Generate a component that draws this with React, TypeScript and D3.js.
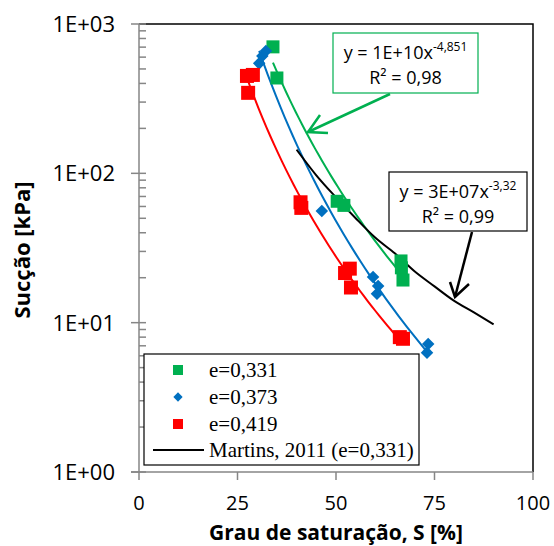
import React, { useEffect, useRef } from 'react';
import * as d3 from 'd3';

// grau de saturação S [%] vs sucção [kPa]
const e331S = [34.0, 35.0, 50.3, 52.0, 66.5, 66.6, 67.0];
const e331Suc = [703, 435, 65, 61, 25.9, 23.3, 19.3];
const e373S = [30.5, 31.3, 32.2, 46.4, 59.4, 60.7, 60.4, 73.4, 73.1];
const e373Suc = [545, 610, 660, 56, 20.2, 17.6, 15.6, 7.2, 6.3];
const e419S = [27.4, 28.9, 27.7, 41.0, 41.2, 52.3, 53.5, 53.8, 66.2, 67.0];
const e419Suc = [449, 456, 346, 64, 58.7, 21.5, 23, 17.2, 8.0, 7.8];
// Martins, 2011 (e=0,331) curve
const martinsS = [40, 45, 50, 55, 60, 65, 70, 75, 80, 85, 90];
const martinsSuc = [144, 97, 69, 50, 37, 29, 22, 17.5, 14, 11.7, 9.75];

const xTicks = [0, 25, 50, 75, 100];
const yTicks = [1, 10, 100, 1000];
const yTickLabels = ['1E+00', '1E+01', '1E+02', '1E+03'];

const GREEN = '#00B050';
const BLUE = '#0070C0';
const RED = '#FF0000';
const AXIS = '#868686';
const FONT = '"Open Sans", Lato, sans-serif';

// excel-like power trendline: ln(y) = ln(a) + b ln(x)
function powerFit(xs: number[], ys: number[]) {
  const lx = xs.map(Math.log);
  const ly = ys.map(Math.log);
  const mx = d3.mean(lx)!;
  const my = d3.mean(ly)!;
  let num = 0;
  let den = 0;
  lx.forEach((v, i) => {
    num += (v - mx) * (ly[i] - my);
    den += (v - mx) * (v - mx);
  });
  const b = num / den;
  const a = Math.exp(my - b * mx);
  return { a, b };
}

export default function App() {
  const ref = useRef<SVGSVGElement>(null);

  useEffect(() => {
    const svg = d3.select(ref.current);
    svg.selectAll('*').remove();

    const left = 139;
    const right = 533;
    const top = 24;
    const bottom = 472;

    const x = d3.scaleLinear().domain([0, 100]).range([left, right]);
    const y = d3.scaleLog().domain([1, 1000]).range([bottom, top]);

    // plot border (top / right black)
    svg
      .append('path')
      .attr('d', `M${left},${top}H${right}V${bottom}`)
      .attr('fill', 'none')
      .attr('stroke', '#000')
      .attr('stroke-width', 1.5);

    // y axis with minor ticks
    const yAxis = svg.append('g');
    yAxis
      .append('line')
      .attr('x1', left)
      .attr('x2', left)
      .attr('y1', top)
      .attr('y2', bottom)
      .attr('stroke', AXIS)
      .attr('stroke-width', 1.5);
    const minor: number[] = [];
    for (let p = 0; p < 3; p++) {
      for (let m = 2; m <= 9; m++) minor.push(m * Math.pow(10, p));
    }
    yAxis
      .selectAll('line.minor')
      .data(minor)
      .enter()
      .append('line')
      .attr('x1', left)
      .attr('x2', left + 7)
      .attr('y1', (d) => y(d))
      .attr('y2', (d) => y(d))
      .attr('stroke', AXIS)
      .attr('stroke-width', 1.5);
    yAxis
      .selectAll('line.major')
      .data(yTicks)
      .enter()
      .append('line')
      .attr('x1', left - 8)
      .attr('x2', left + 7)
      .attr('y1', (d) => y(d))
      .attr('y2', (d) => y(d))
      .attr('stroke', AXIS)
      .attr('stroke-width', 1.5);
    yAxis
      .selectAll('text')
      .data(yTicks)
      .enter()
      .append('text')
      .attr('x', left - 24)
      .attr('y', (d) => y(d) + 8)
      .attr('text-anchor', 'end')
      .style('font-family', FONT)
      .style('font-size', '22px')
      .text((d, i) => yTickLabels[i]);

    // x axis
    const xAxis = svg.append('g');
    xAxis
      .append('line')
      .attr('x1', left - 8)
      .attr('x2', right)
      .attr('y1', bottom)
      .attr('y2', bottom)
      .attr('stroke', AXIS)
      .attr('stroke-width', 1.5);
    xAxis
      .selectAll('line.tick')
      .data(xTicks)
      .enter()
      .append('line')
      .attr('x1', (d) => x(d))
      .attr('x2', (d) => x(d))
      .attr('y1', bottom)
      .attr('y2', bottom + 8)
      .attr('stroke', AXIS)
      .attr('stroke-width', 1.5);
    xAxis
      .selectAll('text')
      .data(xTicks)
      .enter()
      .append('text')
      .attr('x', (d) => x(d))
      .attr('y', bottom + 38)
      .attr('text-anchor', 'middle')
      .style('font-family', FONT)
      .style('font-size', '20px')
      .text((d) => d);

    // axis titles
    svg
      .append('text')
      .attr('x', (left + right) / 2)
      .attr('y', 540)
      .attr('text-anchor', 'middle')
      .style('font-family', FONT)
      .style('font-size', '21px')
      .style('font-weight', 'bold')
      .text('Grau de saturação, S [%]');
    svg
      .append('text')
      .attr('transform', `translate(30,${(top + bottom) / 2 + 2}) rotate(-90)`)
      .attr('text-anchor', 'middle')
      .style('font-family', FONT)
      .style('font-size', '22px')
      .style('font-weight', 'bold')
      .text('Sucção [kPa]');

    const line = d3
      .line<[number, number]>()
      .x((d) => x(d[0]))
      .y((d) => y(d[1]));

    // trendlines
    const series = [
      { xs: e331S, ys: e331Suc, color: GREEN },
      { xs: e373S, ys: e373Suc, color: BLUE },
      { xs: e419S, ys: e419Suc, color: RED },
    ];
    series.forEach((s) => {
      const { a, b } = powerFit(s.xs, s.ys);
      const [x0, x1] = d3.extent(s.xs) as [number, number];
      const pts: [number, number][] = d3
        .range(0, 41)
        .map((i) => x0 + ((x1 - x0) * i) / 40)
        .map((v) => [v, a * Math.pow(v, b)]);
      svg
        .append('path')
        .attr('d', line(pts))
        .attr('fill', 'none')
        .attr('stroke', s.color)
        .attr('stroke-width', 2);
    });

    // Martins curve
    const mLine = d3
      .line<number>()
      .x((d) => x(d))
      .y((d, i) => y(martinsSuc[i]))
      .curve(d3.curveMonotoneX);
    svg
      .append('path')
      .attr('d', mLine(martinsS))
      .attr('fill', 'none')
      .attr('stroke', '#000')
      .attr('stroke-width', 2);

    // markers
    const sq = 13;
    svg
      .selectAll('rect.g')
      .data(e331S)
      .enter()
      .append('rect')
      .attr('x', (d) => x(d) - sq / 2)
      .attr('y', (d, i) => y(e331Suc[i]) - sq / 2)
      .attr('width', sq)
      .attr('height', sq)
      .attr('fill', GREEN);
    svg
      .selectAll('path.b')
      .data(e373S)
      .enter()
      .append('path')
      .attr('d', d3.symbol().type(d3.symbolDiamond2).size(100)())
      .attr('transform', (d, i) => `translate(${x(d)},${y(e373Suc[i])})`)
      .attr('fill', BLUE);
    svg
      .selectAll('rect.r')
      .data(e419S)
      .enter()
      .append('rect')
      .attr('x', (d) => x(d) - 7)
      .attr('y', (d, i) => y(e419Suc[i]) - 7)
      .attr('width', 14)
      .attr('height', 14)
      .attr('fill', RED);

    // annotation boxes
    const boxes = [
      { x: 333, y: 33, w: 145, h: 60, color: GREEN, base: '1E+10', exp: '-4,851', r2: '0,98' },
      { x: 389, y: 172, w: 138, h: 59, color: '#000', base: '3E+07', exp: '-3,32', r2: '0,99' },
    ];
    boxes.forEach((bx) => {
      svg
        .append('rect')
        .attr('x', bx.x)
        .attr('y', bx.y)
        .attr('width', bx.w)
        .attr('height', bx.h)
        .attr('fill', '#fff')
        .attr('stroke', bx.color)
        .attr('stroke-width', 1.2);
      const t1 = svg
        .append('text')
        .attr('x', bx.x + bx.w / 2)
        .attr('y', bx.y + 26)
        .attr('text-anchor', 'middle')
        .style('font-family', FONT)
        .style('font-size', '18px');
      t1.append('tspan').text(`y = ${bx.base}x`);
      t1.append('tspan').attr('dy', -8).style('font-size', '12px').text(bx.exp);
      svg
        .append('text')
        .attr('x', bx.x + bx.w / 2)
        .attr('y', bx.y + 51)
        .attr('text-anchor', 'middle')
        .style('font-family', FONT)
        .style('font-size', '18px')
        .text(`R² = ${bx.r2}`);
    });

    // arrows
    const arrows = [
      { color: GREEN, shaft: [390, 94, 308, 132], barbs: [320, 115, 308, 132, 328, 133] },
      { color: '#000', shaft: [472, 232, 455, 297], barbs: [450, 282, 455, 297, 469, 284] },
    ];
    arrows.forEach((a) => {
      svg
        .append('line')
        .attr('x1', a.shaft[0])
        .attr('y1', a.shaft[1])
        .attr('x2', a.shaft[2])
        .attr('y2', a.shaft[3])
        .attr('stroke', a.color)
        .attr('stroke-width', 2.5);
      svg
        .append('path')
        .attr('d', `M${a.barbs[0]},${a.barbs[1]}L${a.barbs[2]},${a.barbs[3]}L${a.barbs[4]},${a.barbs[5]}`)
        .attr('fill', 'none')
        .attr('stroke', a.color)
        .attr('stroke-width', 2.5);
    });

    // legend
    const lg = svg.append('g');
    lg.append('rect')
      .attr('x', 144)
      .attr('y', 354)
      .attr('width', 275)
      .attr('height', 111)
      .attr('fill', '#fff')
      .attr('stroke', '#000')
      .attr('stroke-width', 1.2);
    const items = [
      { label: 'e=0,331', kind: 'sq', color: GREEN },
      { label: 'e=0,373', kind: 'dia', color: BLUE },
      { label: 'e=0,419', kind: 'sq', color: RED },
      { label: 'Martins, 2011 (e=0,331)', kind: 'line', color: '#000' },
    ];
    const rowY = [370, 397, 424, 450];
    items.forEach((it, i) => {
      const cy = rowY[i];
      if (it.kind === 'sq') {
        lg.append('rect').attr('x', 173).attr('y', cy - 5).attr('width', 10).attr('height', 10).attr('fill', it.color);
      } else if (it.kind === 'dia') {
        lg.append('path')
          .attr('d', d3.symbol().type(d3.symbolDiamond2).size(55)())
          .attr('transform', `translate(178,${cy})`)
          .attr('fill', it.color);
      } else {
        lg.append('line').attr('x1', 153).attr('x2', 204).attr('y1', cy).attr('y2', cy).attr('stroke', it.color).attr('stroke-width', 2);
      }
      lg.append('text')
        .attr('x', 209)
        .attr('y', cy + 7)
        .style('font-family', '"Liberation Serif", "Times New Roman", serif')
        .style('font-size', '21px')
        .text(it.label);
    });
  }, []);

  return (
    <svg
      ref={ref}
      width={554}
      height={546}
      style={{ position: 'absolute', left: 0, top: 0, background: '#fff' }}
    />
  );
}
